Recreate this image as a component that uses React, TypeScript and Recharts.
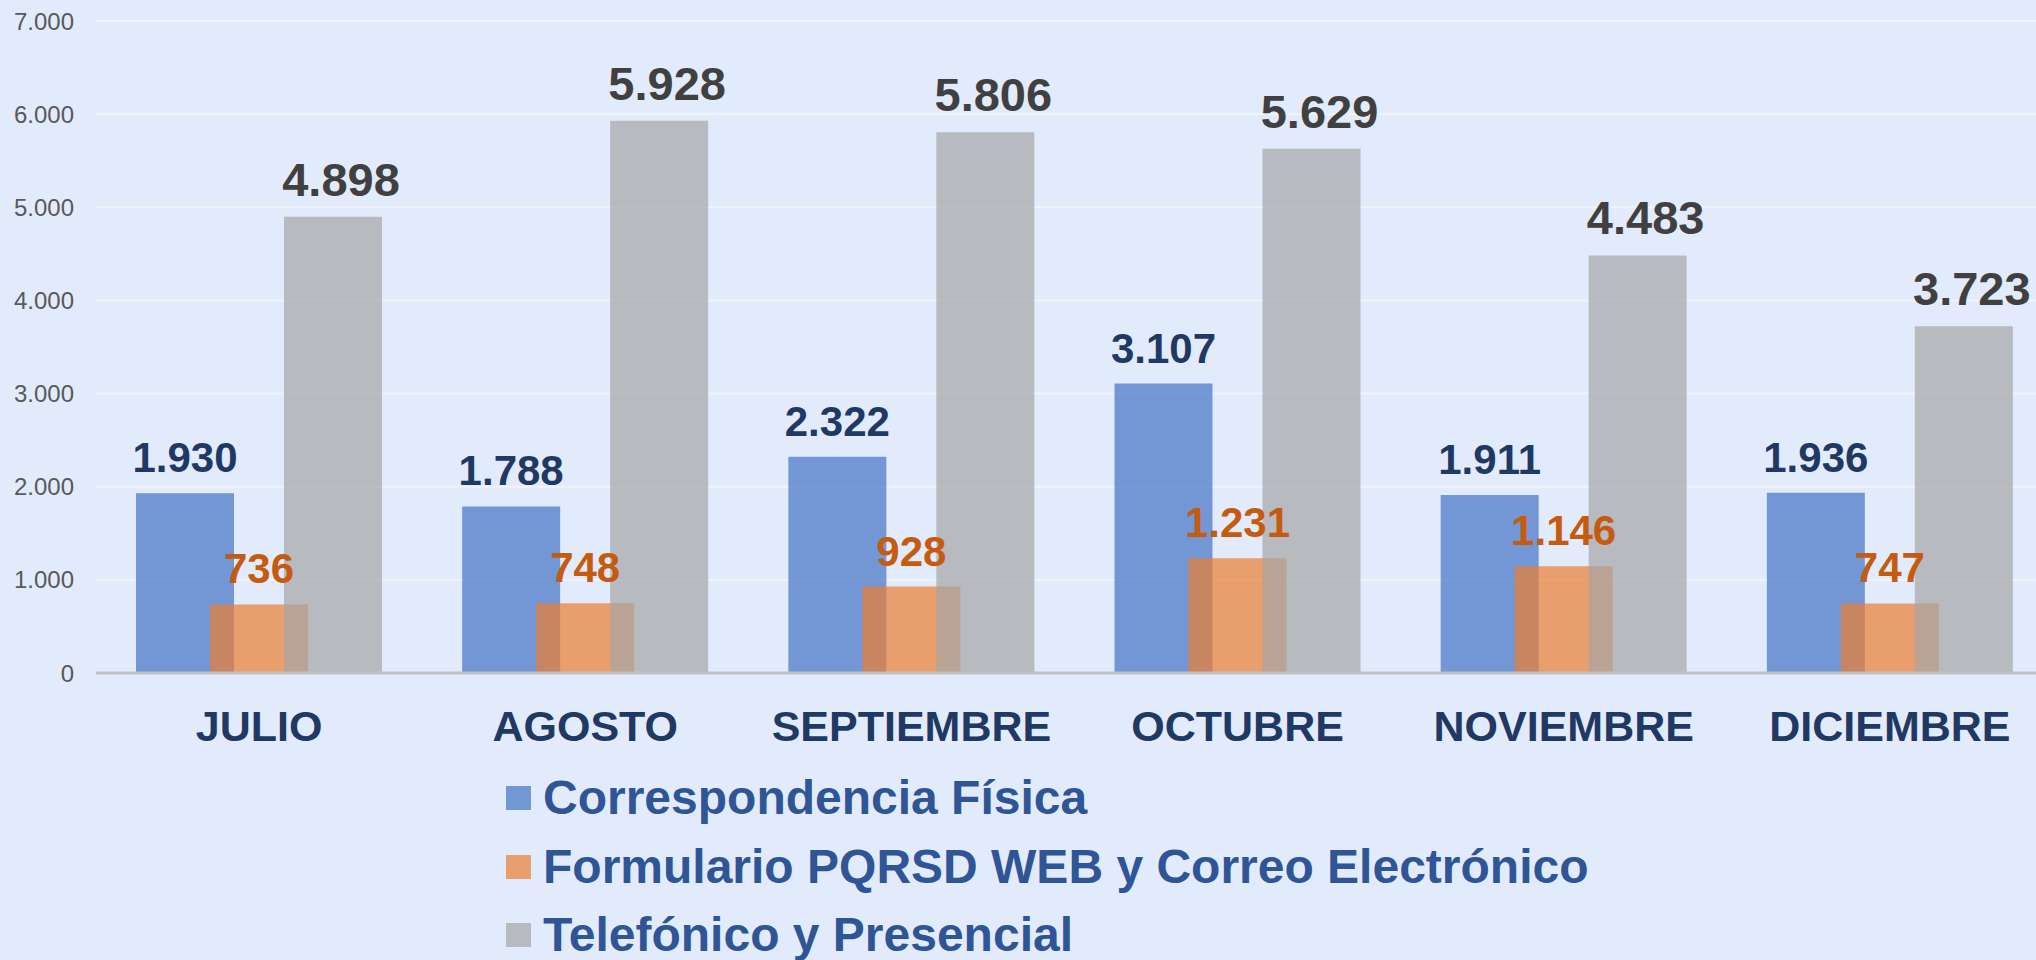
import { BarChart, Bar, XAxis, YAxis, CartesianGrid, Legend, LabelList } from 'recharts';

const months = ['JULIO', 'AGOSTO', 'SEPTIEMBRE', 'OCTUBRE', 'NOVIEMBRE', 'DICIEMBRE'];
const fisica = [1930, 1788, 2322, 3107, 1911, 1936];
const formulario = [736, 748, 928, 1231, 1146, 747];
const telefonico = [4898, 5928, 5806, 5629, 4483, 3723];
const yTicks = [0, 1000, 2000, 3000, 4000, 5000, 6000, 7000];

const data = months.map((m, i) => ({
  month: m,
  fisica: fisica[i],
  formulario: formulario[i],
  telefonico: telefonico[i],
}));

const FONT = '"Liberation Sans", Arial, sans-serif';

// 1930 -> "1.930"
const fmt = (v: number) => String(v).replace(/\B(?=(\d{3})+(?!\d))/g, '.');

function valueLabel(color: string, size: number, dx = 0) {
  return (props: any) => {
    const { x, y, width, value } = props;
    return (
      <text
        x={Number(x) + Number(width) / 2 + dx}
        y={Number(y) - 21}
        textAnchor="middle"
        fill={color}
        fontSize={size}
        fontWeight="bold"
        fontFamily={FONT}
      >
        {fmt(value)}
      </text>
    );
  };
}

function LegendBox(props: any) {
  const { payload } = props;
  return (
    <div style={{ fontFamily: FONT }}>
      {(payload || []).map((item: any) => (
        <div
          key={item.value}
          style={{ display: 'flex', alignItems: 'center', height: 68.5 }}
        >
          <span
            style={{
              display: 'inline-block',
              width: 25,
              height: 24,
              background: item.color,
              opacity: 0.7,
              marginRight: 12,
            }}
          />
          <span
            style={{
              fontSize: 48,
              lineHeight: '48px',
              fontWeight: 'bold',
              color: '#2F5597',
              whiteSpace: 'nowrap',
            }}
          >
            {item.value}
          </span>
        </div>
      ))}
    </div>
  );
}

export default function App() {
  return (
    <div
      style={{
        position: 'fixed',
        left: 0,
        top: 0,
        width: 2036,
        height: 960,
        overflow: 'hidden',
        background: '#E2EBFB',
      }}
    >
      <BarChart
        width={2060}
        height={960}
        data={data}
        margin={{ top: 21, right: 7, left: 0, bottom: 227 }}
        barSize={98}
        barGap={-24}
      >
        <CartesianGrid vertical={false} stroke="#F0F3F8" strokeWidth={2} />
        <XAxis
          dataKey="month"
          height={60}
          interval={0}
          tickLine={false}
          tickSize={0}
          tickMargin={37}
          axisLine={{ stroke: '#C0C0C0', strokeWidth: 3 }}
          tick={{ fill: '#1F3864', fontSize: 43, fontWeight: 'bold', fontFamily: FONT }}
        />
        <YAxis
          width={96}
          domain={[0, 7000]}
          ticks={yTicks}
          interval={0}
          axisLine={false}
          tickLine={false}
          tickSize={0}
          tickMargin={22}
          tickFormatter={fmt}
          tick={{ fill: '#595959', fontSize: 24, fontFamily: FONT }}
        />
        <Legend
          layout="horizontal"
          verticalAlign="middle"
          align="center"
          wrapperStyle={{ left: 506, top: 764, width: 'auto' }}
          content={<LegendBox />}
        />
        <Bar
          dataKey="fisica"
          name="Correspondencia Física"
          fill="#4472C4"
          fillOpacity={0.7}
          isAnimationActive={false}
        >
          <LabelList dataKey="fisica" content={valueLabel('#1F3864', 42)} />
        </Bar>
        <Bar
          dataKey="formulario"
          name="Formulario PQRSD WEB y Correo Electrónico"
          fill="#ED7D31"
          fillOpacity={0.7}
          isAnimationActive={false}
        >
          <LabelList dataKey="formulario" content={valueLabel('#C55A11', 42)} />
        </Bar>
        <Bar
          dataKey="telefonico"
          name="Telefónico y Presencial"
          fill="#A5A5A5"
          fillOpacity={0.7}
          isAnimationActive={false}
        >
          <LabelList dataKey="telefonico" content={valueLabel('#404040', 47, 8)} />
        </Bar>
      </BarChart>
    </div>
  );
}
